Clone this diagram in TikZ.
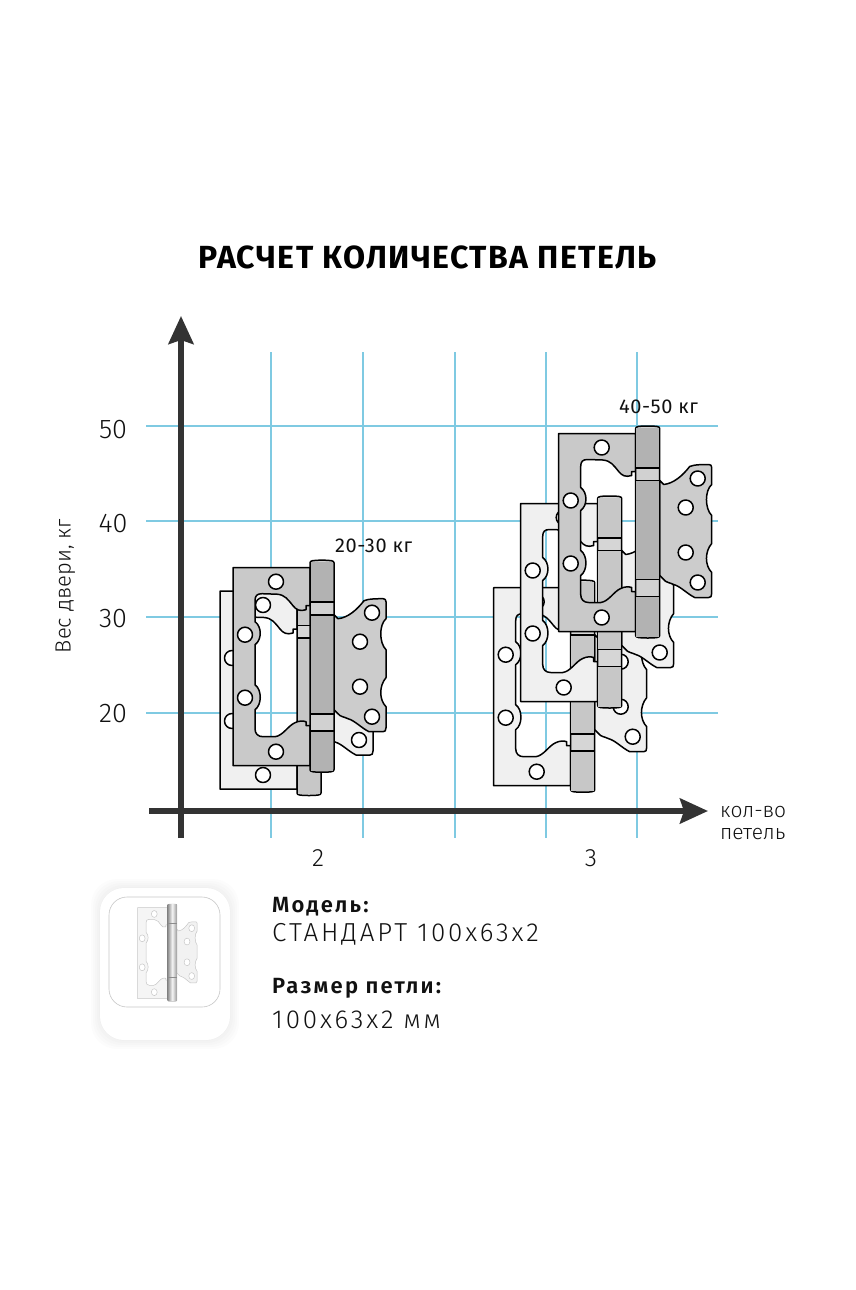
\documentclass[tikz,border=0pt]{standalone}
\usepackage{fontspec}
\setmainfont{Fira Sans Light}
\newfontfamily\infolight{Fira Sans Light}[LetterSpace=11]
\newfontfamily\smalllight{Fira Sans}[LetterSpace=3]
\newfontfamily\infobold{Fira Sans SemiBold}[LetterSpace=10]
\newfontfamily\titlebold{Fira Sans}[LetterSpace=4.5]
\usetikzlibrary{arrows.meta}
\definecolor{gridblue}{HTML}{7FCAE2}
\definecolor{axisdark}{HTML}{333333}
\definecolor{txt}{HTML}{111111}
\tikzset{
  gridline/.style={gridblue,line width=1.2pt},
  axisline/.style={axisdark,line width=5.5pt,-{Stealth[length=28pt,width=25pt,inset=4pt]}},
  lbl/.style={inner sep=0pt,text=txt},
}
% #1 x, #2 y, #3 scale keys, #4 plate fill, #5 pin light, #6 pin dark, #7 outline, #8 line width, #9 leaf fill
\newcommand\hingedraw[9]{%
\begin{scope}[shift={(#1,#2)},#3,draw=#7,line width=#8pt,line join=round]
  % right leaf
  \draw[fill=#9] (101,47) -- (105,51) .. controls (115,50) and (124,42) .. (131,33)
    .. controls (135,31) and (145,31) .. (150,31) .. controls (152,31) and (153,32) .. (153,34)
    -- (153,51) .. controls (146,57) and (146,75) .. (153,82) -- (153,110)
    .. controls (146,118) and (146,132) .. (153,139) -- (153,160)
    .. controls (153,163) and (152,164) .. (150,164) -- (136,164)
    .. controls (128,160) and (122,153) .. (115,151) .. controls (111,149) and (107,149) .. (105,146) -- (101,142) -- cycle;
  \foreach \hx/\hy in {139/45,127/74,127/119,139/149}{\draw[fill=white] (\hx,\hy) circle[radius=7.5];}
  % left plate with open window
  \draw[fill=#4] (0,0) -- (77,0) -- (77,38) -- (73,38) -- (73,42)
    .. controls (67,44) and (63,42) .. (60,38) .. controls (55,32) and (52,27) .. (44,26.5)
    -- (29,26) .. controls (24,26) and (22,28) .. (22,33) -- (22,54)
    .. controls (29,59) and (29,72) .. (22,77) -- (22,117)
    .. controls (29,122) and (29,137) .. (22,142) -- (22,161)
    .. controls (22,166) and (25,169) .. (30,169) -- (42,169)
    .. controls (50,168) and (55,158) .. (62,155) .. controls (66,153) and (70,153) .. (73,154)
    -- (73,158) -- (77,158) -- (77,198) -- (0,198) -- cycle;
  \foreach \hx/\hy in {43/14,12/67,12/130,43/184}{\draw[fill=white] (\hx,\hy) circle[radius=7.5];}
  % pin
  \draw[fill=#5] (77,-5) .. controls (77,-7) and (80,-7.5) .. (89,-7.5)
    .. controls (98,-7.5) and (101,-7) .. (101,-5) -- (101,202)
    .. controls (101,204) and (98,204.5) .. (89,204.5) .. controls (80,204.5) and (77,204) .. (77,202) -- cycle;
  \fill[#6] (77.7,47) rectangle (100.3,146);
  \fill[#6] (77.7,-6) rectangle (100.3,34.5);
  \fill[#6] (77.7,163) rectangle (100.3,203);
  \draw[line width=1.3*#8pt] (77,34.5) -- (101,34.5) (77,47) -- (101,47) (77,146) -- (101,146) (77,163) -- (101,163);
\end{scope}}
\begin{document}
\begin{tikzpicture}[x=1pt,y=-1pt]
\useasboundingbox (0,0) rectangle (855,1290);
\fill[white] (0,0) rectangle (855,1290);
% grid
\foreach \gy in {426,521,617,713}{\draw[gridline] (146,\gy) -- (718,\gy);}
\foreach \gx in {271,363,455,546,637}{\draw[gridline] (\gx,352) -- (\gx,838);}
% axes
\coordinate (ya0) at (181,838);
\coordinate (ya1) at (181,316);
\coordinate (xa0) at (149,811);
\coordinate (xa1) at (708,811);
\draw[axisline] (ya0) -- (ya1);
\draw[axisline] (xa0) -- (xa1);
% title
\node[lbl,text=black,anchor=base,font=\titlebold\bfseries\fontsize{32}{32}\selectfont] (title) at (427.5,268) {РАСЧЕТ КОЛИЧЕСТВА ПЕТЕЛЬ};
% y ticks
\node[lbl,anchor=base,font=\fontsize{27}{27}\selectfont] (t50) at (113,438) {50};
\node[lbl,anchor=base,font=\fontsize{27}{27}\selectfont] (t40) at (113,532.5) {40};
\node[lbl,anchor=base,font=\fontsize{27}{27}\selectfont] (t30) at (113,627) {30};
\node[lbl,anchor=base,font=\fontsize{27}{27}\selectfont] (t20) at (113,722) {20};
\node[lbl,rotate=90,anchor=base,font=\fontsize{22}{22}\selectfont] (ylab) at (70.5,586) {Вес двери, кг};
% x labels
\node[lbl,anchor=base west,font=\fontsize{21}{21}\selectfont] (xl1) at (720,817) {кол-во};
\node[lbl,anchor=base west,font=\fontsize{21}{21}\selectfont] (xl2) at (720,839) {петель};
\node[lbl,anchor=base,font=\fontsize{25}{25}\selectfont] (x2) at (318,866) {2};
\node[lbl,anchor=base,font=\fontsize{25}{25}\selectfont] (x3) at (591,866) {3};
% hinges
\hingedraw{220}{591}{x=1pt,y=-1pt}{black!6}{black!16}{black!22}{black}{1.5}{black!6}
\hingedraw{233}{567.7}{x=1pt,y=-1pt}{black!21}{black!18}{black!30}{black}{1.5}{black!20}
\hingedraw{493.7}{587.7}{x=1pt,y=-1pt}{black!6}{black!16}{black!22}{black}{1.5}{black!6}
\hingedraw{520.7}{503.5}{x=1pt,y=-1pt}{black!6}{black!16}{black!22}{black}{1.5}{black!6}
\hingedraw{558.7}{433.5}{x=1pt,y=-1pt}{black!21}{black!18}{black!30}{black}{1.5}{black!20}
\node[lbl,anchor=base west,font=\smalllight\fontsize{20}{20}\selectfont] (l1) at (335,552) {20-30 кг};
\node[lbl,anchor=base west,font=\smalllight\fontsize{20}{20}\selectfont] (l2) at (619,413) {40-50 кг};
% thumbnail
\foreach \sh in {9,7,5,3,1}{\fill[black,opacity=0.012,rounded corners=26pt] (100-\sh,888-\sh) rectangle (230+\sh,1040+\sh);}
\fill[white,rounded corners=24pt] (100,888) rectangle (230,1040);
\draw[black!22,line width=0.6pt,rounded corners=18pt] (109,897) rectangle (220,1007);
\hingedraw{137.5}{907.5}{x=0.39pt,y=-0.46pt}{black!4}{black!15}{black!15}{black!22}{0.5}{black!5}
\shade[left color=black!45,right color=black!40,middle color=black!4] (167.6,904) rectangle (176.9,1000);
\draw[black!45,line width=0.9pt] (167.6,923.5) -- (176.9,923.5) (167.6,977) -- (176.9,977);
% info
\node[lbl,anchor=base west,font=\infobold\fontsize{22}{22}\selectfont] (m1) at (272,912) {Модель:};
\node[lbl,anchor=base west,font=\infolight\fontsize{26}{26}\selectfont] (m2) at (272,941) {СТАНДАРТ 100х63х2};
\node[lbl,anchor=base west,font=\infobold\fontsize{22}{22}\selectfont] (m3) at (272,993) {Размер петли:};
\node[lbl,anchor=base west,font=\infolight\fontsize{26}{26}\selectfont] (m4) at (272,1028) {100х63х2 мм};
\end{tikzpicture}
\end{document}
